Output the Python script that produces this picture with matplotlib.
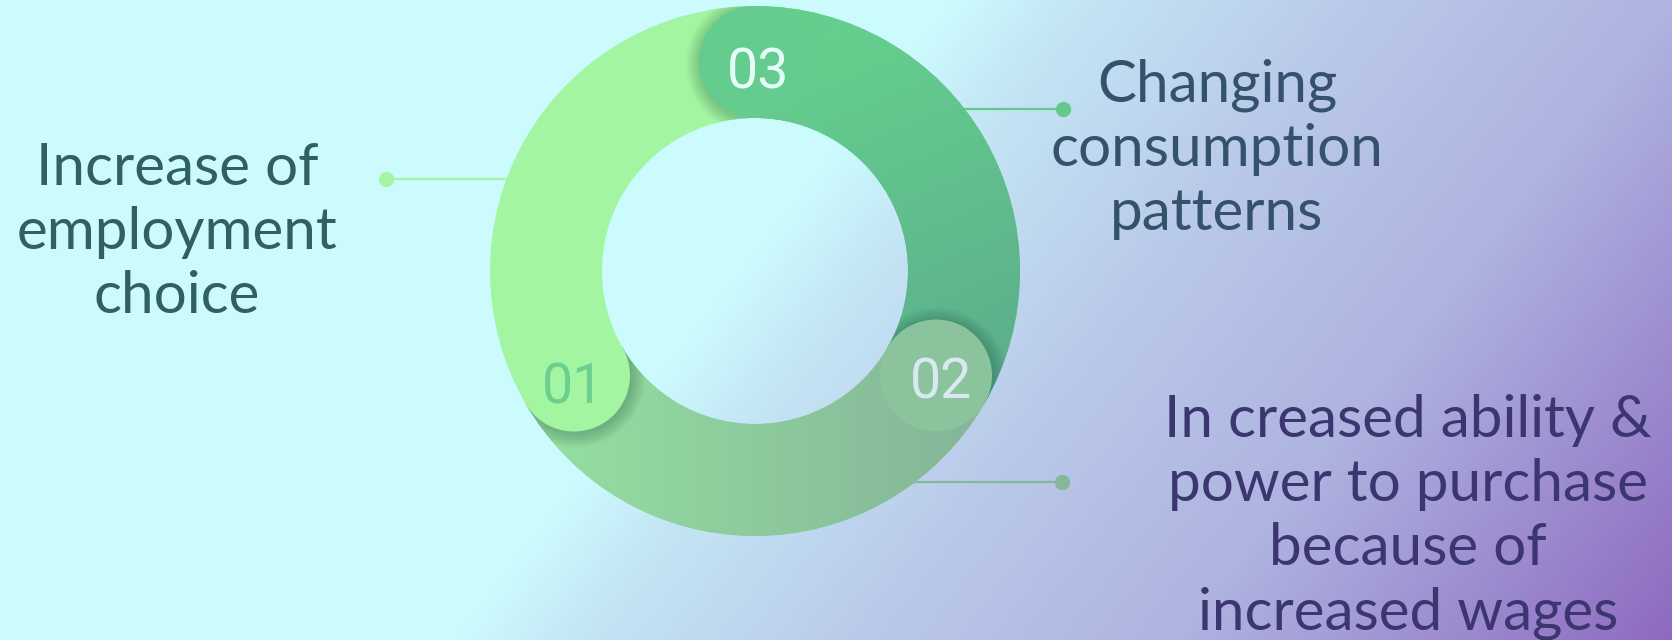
import numpy as np
import matplotlib
matplotlib.use("Agg")
import matplotlib.pyplot as plt
from matplotlib.patches import Wedge, Circle
from matplotlib.colors import LinearSegmentedColormap

W, H = 1672, 640

# ring data (pixel coords, y measured from top)
ring_center = (755, 271)
outer_r = 265
inner_r = 153
seg_numbers = ["01", "02", "03"]
seg_start = [90, 210, 330]          # degrees, counter clockwise
seg_end = [210, 330, 450]
seg_colors = [("#a3f5a2", "#a3f5a2"), ("#95dfa1", "#85b699"), ("#65ce8e", "#5aaa8b")]
cap_colors = ["#a3f5a2", "#8bc39c", "#64cc8e"]
num_colors = ["#6ccf8e", "#d9e9f2", "#e4fff6"]
num_pos = [(573, 388), (941, 383), (758, 73)]

# callouts
label_lines = [["Increase of", "employment", "choice"],
               ["In creased ability &", "power to purchase", "because of", "increased wages"],
               ["Changing", "consumption", "patterns"]]
label_x = [177, 1408, 1217]
label_first_baseline = [185, 437, 102]
label_colors = ["#2f6062", "#3c3670", "#35526c"]
dot_pos = [(386, 179), (1062, 482), (1063, 109)]
line_start_x = [600, 850, 900]
line_colors = ["#a3f5a2", "#85b898", "#63c98c"]

line_gap = 64


def Y(y):
    return H - y


fig = plt.figure(figsize=(W / 100, H / 100), dpi=100)
ax = fig.add_axes([0, 0, 1, 1])
ax.set_xlim(0, W)
ax.set_ylim(0, H)
ax.axis("off")

# background gradient
xx, yy = np.meshgrid(np.arange(W), np.arange(H))
t = (xx + 0.78 * yy - 950) / (W + 0.78 * H - 950)
t = np.clip(t, 0, 1)
bg_cmap = LinearSegmentedColormap.from_list(
    "bg", [(0, "#ccfbfe"), (0.1, "#c4e6f5"), (0.35, "#b9c8e9"), (0.6, "#aeb3e0"), (1.0, "#8e6ac0")])
ax.imshow(t, cmap=bg_cmap, extent=[0, W, 0, H], origin="upper", aspect="auto", zorder=0)

cx, cy = ring_center[0], Y(ring_center[1])
mid_r = (outer_r + inner_r) / 2
cap_r = (outer_r - inner_r) / 2

# connector lines and dots
for (dx, dy), sx, c in zip(dot_pos, line_start_x, line_colors):
    ax.plot([sx, dx], [Y(dy), Y(dy)], color=c, lw=1.6, zorder=1, solid_capstyle="butt")
    ax.plot(dx, Y(dy), "o", color=c, ms=11, mec="none", zorder=1)

# ring segments with gradients
wedges = []
gx, gy = np.meshgrid(np.linspace(0, 1, 300), np.linspace(0, 1, 300))
for i in range(3):
    c1, c2 = seg_colors[i]
    w = Wedge((cx, cy), outer_r, seg_start[i], seg_end[i], width=outer_r - inner_r,
              facecolor=c1, edgecolor="none", zorder=2)
    ax.add_patch(w)
    wedges.append(w)
    if c1 != c2:
        cm = LinearSegmentedColormap.from_list("s%d" % i, [c1, c2])
        if i == 1:
            g = (gx - 0.1) / 0.8
        else:
            g = (gy * 0.7 + gx * 0.3 - 0.25) / 0.6
        im = ax.imshow(np.clip(g, 0, 1), cmap=cm, origin="upper", aspect="auto", zorder=2.1,
                       vmin=0, vmax=1,
                       extent=[cx - outer_r, cx + outer_r, cy - outer_r, cy + outer_r])
        im.set_clip_path(w)

# rounded caps, soft shadow only on the next segment
for i in range(3):
    a = np.deg2rad(seg_end[i])
    px, py = cx + mid_r * np.cos(a), cy + mid_r * np.sin(a)
    nxt = wedges[(i + 1) % 3]
    for k in range(12):
        sh = Circle((px + 1, py - 2), cap_r + 14 - k * 1.2, facecolor="#1b4a3a",
                    alpha=0.025, edgecolor="none", zorder=3)
        ax.add_patch(sh)
        sh.set_clip_path(nxt)
    ax.add_patch(Circle((px, py), cap_r, facecolor=cap_colors[i], edgecolor="none", zorder=4))
    nx, ny = num_pos[i]
    ax.text(nx, Y(ny), seg_numbers[i], ha="center", va="center", fontsize=40,
            family="Roboto", weight="normal", color=num_colors[i], zorder=5)

# labels
for lines, x, b, c in zip(label_lines, label_x, label_first_baseline, label_colors):
    for j, s in enumerate(lines):
        ax.text(x, Y(b + j * line_gap), s, ha="center", va="baseline", fontsize=42,
                family="Lato", color=c, zorder=5)

fig.savefig("out.png", dpi=100)
